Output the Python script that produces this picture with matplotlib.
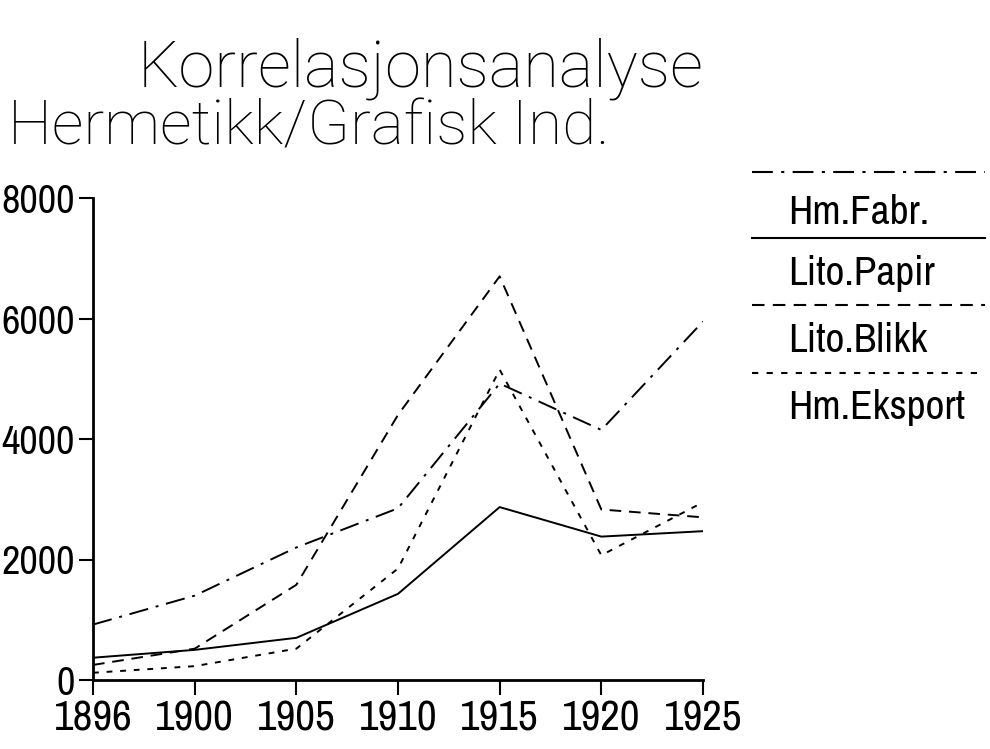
import numpy as np
from matplotlib import pyplot as plt
from matplotlib import font_manager
from matplotlib.lines import Line2D

years = ['1896', '1900', '1905', '1910', '1915', '1920', '1925']
hm_fabr = [920, 1400, 2200, 2850, 4920, 4150, 5950]
lito_papir = [370, 500, 700, 1430, 2870, 2380, 2470]
lito_blikk = [250, 520, 1580, 4400, 6700, 2830, 2700]
hm_eksport = [120, 230, 520, 1850, 5150, 2070, 2950]

labels = ['Hm.Fabr.', 'Lito.Papir', 'Lito.Blikk', 'Hm.Eksport']
yticks = [0, 2000, 4000, 6000, 8000]

# line styles, same order as labels
styles = [(0, (10, 4, 1.5, 4)), '-', (0, (6, 4)), (0, (3, 4))]

# pick a narrow font for numbers and a thin one for the headings
fonts = font_manager.fontManager.ttflist
narrow = font_manager.FontProperties(family='DejaVu Sans')
narrow_found = False
for f in fonts:
    if ('Narrow' in f.name or 'Condensed' in f.name) and f.weight in (400, 'normal', 'regular') and f.style == 'normal':
        narrow = font_manager.FontProperties(fname=f.fname)
        narrow_found = True
        break
if not narrow_found:
    for f in fonts:
        if f.stretch in ('condensed', 'semi-condensed', 'extra-condensed') and f.style == 'normal' \
                and f.weight in (400, 'normal', 'regular'):
            narrow = font_manager.FontProperties(fname=f.fname)
            narrow_found = True
            break

thin = ['DejaVu Sans']
thin_weight = 'normal'
for fam in ['Roboto', 'Lato', 'Open Sans', 'Noto Sans', 'Inter', 'DejaVu Sans']:
    light = [f for f in fonts if f.name == fam and isinstance(f.weight, int) and f.weight <= 300]
    if light:
        thin = [fam, 'DejaVu Sans']
        thin_weight = min(f.weight for f in light)
        break

fig = plt.figure(figsize=(9.9, 7.49), dpi=100)
ax = fig.add_axes([93 / 990, 1 - 680 / 749, 610 / 990, 482 / 749])

x = np.arange(len(years))
series = [hm_fabr, lito_papir, lito_blikk, hm_eksport]
for vals, ls in zip(series, styles):
    ax.plot(x, vals, color='black', linewidth=1.4, linestyle=ls)

ax.set_xlim(0, len(years) - 1)
ax.set_ylim(0, 8000)
ax.set_xticks(x)
ax.set_xticklabels(years)
ax.set_yticks(yticks)
ax.set_yticklabels([str(v) for v in yticks])
for side in ['top', 'right']:
    ax.spines[side].set_visible(False)
for side in ['left', 'bottom']:
    ax.spines[side].set_linewidth(2)
ax.tick_params(axis='x', direction='out', length=11, width=1.5, pad=3)
ax.tick_params(axis='y', direction='out', length=10, width=1.5, pad=3)
for t in ax.get_xticklabels():
    t.set_fontproperties(narrow)
    t.set_fontsize(31 if narrow_found else 21)
for t in ax.get_yticklabels():
    t.set_fontproperties(narrow)
    t.set_fontsize(29 if narrow_found else 21)

# headings
title = fig.text(421 / 990, 1 - 86 / 749, 'Korrelasjonsanalyse', family=thin,
                 fontweight=thin_weight, fontsize=40, va='baseline', ha='center')
sub = fig.text(8 / 990, 1 - 145 / 749, 'Hermetikk/Grafisk Ind.', family=thin,
               fontweight=thin_weight, fontsize=40, va='baseline', ha='left')

# legend at the right, a line above each name
line_y = [172, 238, 305, 373]
text_y = [212, 274, 341, 408]
leg_texts = []
for lab, ls, ly, ty in zip(labels, styles, line_y, text_y):
    fig.add_artist(Line2D([752 / 990, 985 / 990], [1 - ly / 749, 1 - ly / 749],
                          transform=fig.transFigure, color='black', linewidth=1.5, linestyle=ls))
    t = fig.text(788 / 990, 1 - ty / 749, lab, fontproperties=narrow, va='center', ha='left')
    t.set_fontsize(28)
    leg_texts.append(t)

# size headings to the widths they take in the reference
fig.canvas.draw()
r = fig.canvas.get_renderer()
for t, w in [(title, 565), (sub, 600)]:
    t.set_fontsize(t.get_fontsize() * w / t.get_window_extent(r).width)
scale = 177 / leg_texts[3].get_window_extent(r).width
for t in leg_texts:
    t.set_fontsize(t.get_fontsize() * scale)

fig.savefig('out.png', dpi=100, facecolor='white')
